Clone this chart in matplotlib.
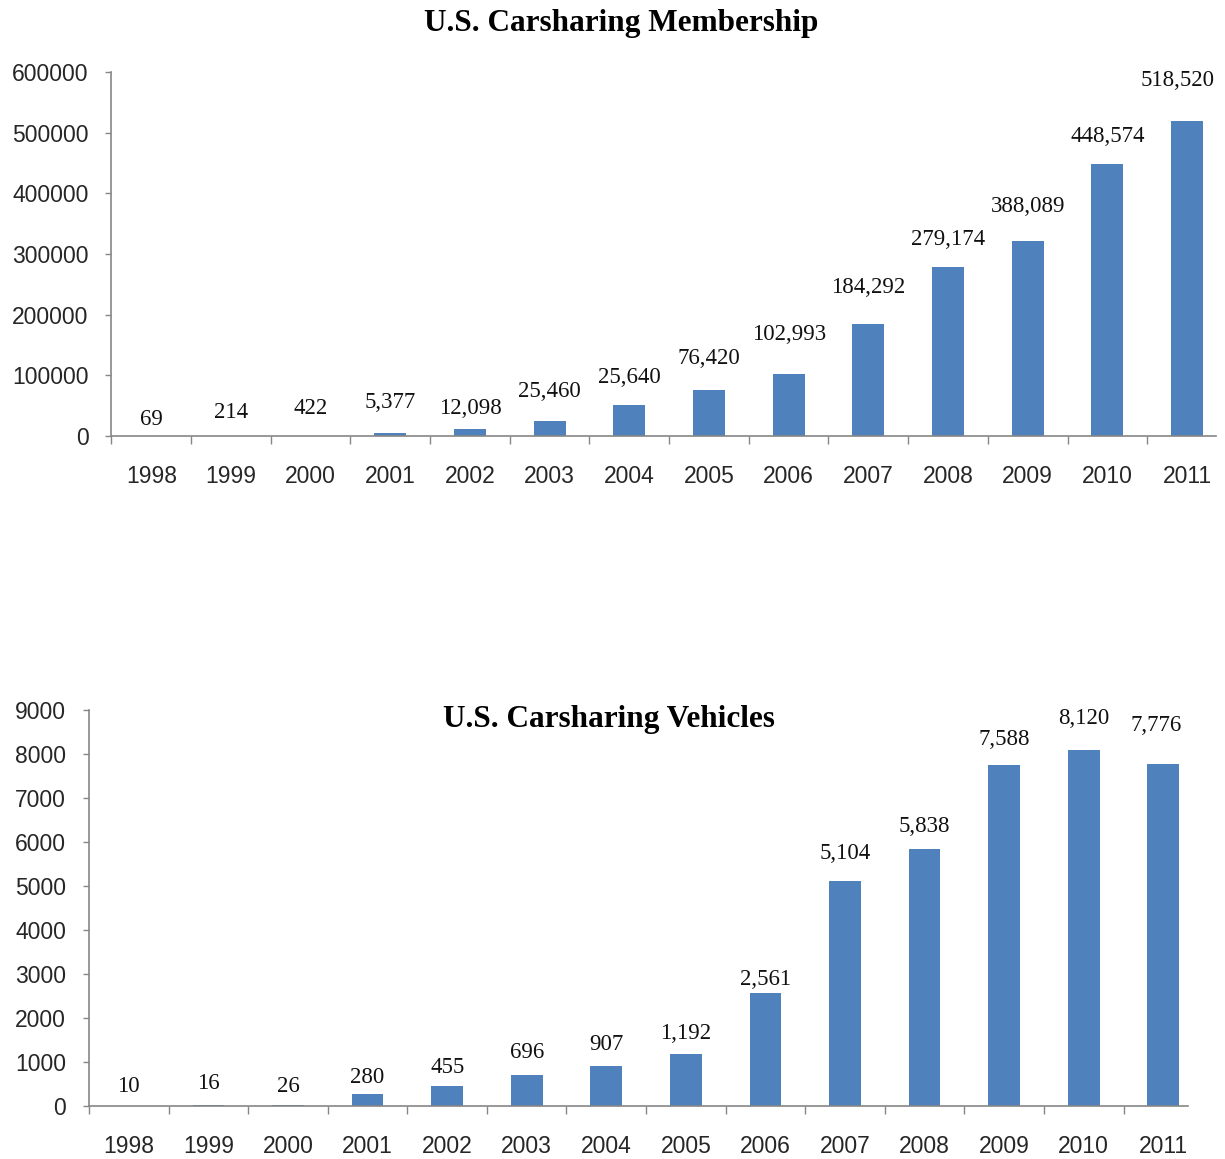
import matplotlib.pyplot as plt
import numpy as np

# data
years = ['1998', '1999', '2000', '2001', '2002', '2003', '2004',
         '2005', '2006', '2007', '2008', '2009', '2010', '2011']

# membership: bar heights as drawn, and the printed labels
members = [69, 214, 422, 5377, 12098, 25460, 51000,
           76420, 102993, 184292, 279174, 322000, 448574, 518520]
member_labels = ['69', '214', '422', '5,377', '12,098', '25,460', '25,640',
                 '76,420', '102,993', '184,292', '279,174', '388,089', '448,574', '518,520']

# vehicles: bar heights as drawn, and the printed labels
vehicles = [10, 16, 26, 280, 455, 696, 907,
            1192, 2561, 5104, 5838, 7740, 8100, 7776]
vehicle_labels = ['10', '16', '26', '280', '455', '696', '907',
                  '1,192', '2,561', '5,104', '5,838', '7,588', '8,120', '7,776']

# label gap above each bar (pixels), as placed in the original
member_gap = [16, 23, 27, 30, 20, 29, 28, 31, 39, 37, 27, 34, 27, 41]
vehicle_gap = [19, 22, 18, 16, 19, 23, 22, 20, 14, 28, 23, 26, 31, 38]
# small sideways nudges (pixels) for the last labels near the edge
member_shift = [0] * 13 + [-9]
vehicle_shift = [0] * 13 + [-7]

bar_color = '#4F81BD'
axis_color = '#868686'
tick_font = 'Liberation Sans'
label_font = 'Liberation Serif'

fig = plt.figure(figsize=(12.25, 11.59), dpi=100)
ax1 = fig.add_axes([0.0910, 0.6238, 0.9105, 0.3141])
ax2 = fig.add_axes([0.0727, 0.0457, 0.9094, 0.3417])


def draw(ax, values, labels, gaps, shifts, ymax, ystep, spine_end):
    x = np.arange(len(years))
    ax.bar(x, values, width=0.4, color=bar_color, zorder=2)
    ax.set_xlim(-0.5, len(years) - 0.5)
    ax.set_ylim(0, ymax)
    ax.set_yticks(np.arange(0, ymax + 1, ystep))
    ax.set_yticklabels([str(v) for v in np.arange(0, ymax + 1, ystep)],
                       fontfamily=tick_font, fontsize=16.5, color='#262626')
    ax.set_xticks(x)
    ax.set_xticklabels(years, fontfamily=tick_font, fontsize=16.5, color='#262626')
    ax.set_xticks(np.arange(-0.5, len(years) - 1, 1.0), minor=True)
    ax.tick_params(axis='x', which='major', length=0, pad=21)
    ax.tick_params(axis='x', which='minor', length=6, width=1, color=axis_color, direction='out')
    ax.tick_params(axis='y', length=4.5, width=1, color=axis_color, pad=12)
    for side in ['top', 'right']:
        ax.spines[side].set_visible(False)
    for side in ['left', 'bottom']:
        ax.spines[side].set_color(axis_color)
        ax.spines[side].set_linewidth(1.2)
    ax.spines['bottom'].set_bounds(-0.5, spine_end)
    for i, (v, lab, g, s) in enumerate(zip(values, labels, gaps, shifts)):
        ax.annotate(lab, (x[i], v), xytext=(s * 0.72, g * 0.72), textcoords='offset points',
                    ha='center', va='center', fontfamily=label_font, fontsize=16.5,
                    color='#111111', annotation_clip=False)


draw(ax1, members, member_labels, member_gap, member_shift, 600000, 100000, 13.37)
draw(ax2, vehicles, vehicle_labels, vehicle_gap, vehicle_shift, 9000, 1000, 13.31)

fig.text(0.507, 0.980, 'U.S. Carsharing Membership', ha='center', va='center',
         fontfamily=label_font, fontweight='bold', fontsize=22.5)
ax2.text(0.467, 0.975, 'U.S. Carsharing Vehicles', transform=ax2.transAxes,
         ha='center', va='center', fontfamily=label_font, fontweight='bold', fontsize=22.5)

fig.savefig('out.png', dpi=100)
